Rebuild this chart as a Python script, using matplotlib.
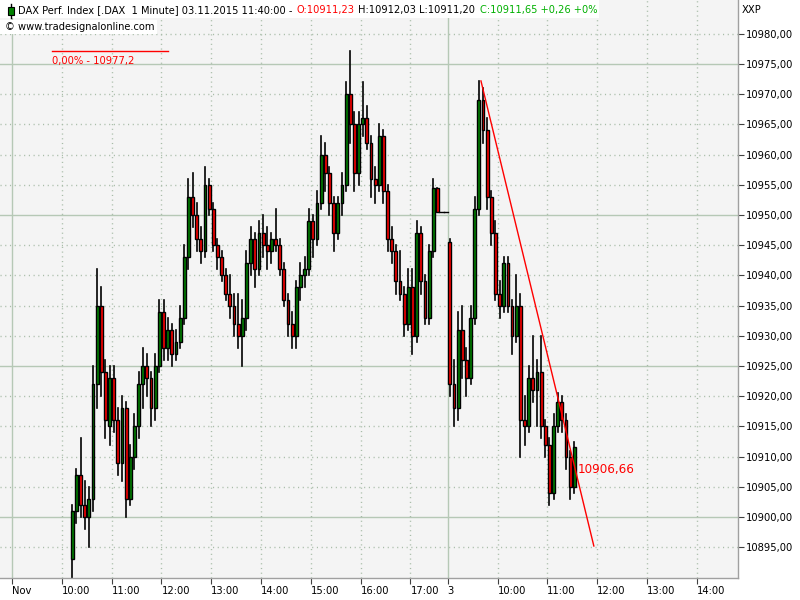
import matplotlib
matplotlib.use("Agg")
import matplotlib.pyplot as plt
from matplotlib.patches import Rectangle
from matplotlib.lines import Line2D

# ---------------- data ----------------
# bar start time in minutes after 02.11.2015 09:00 (5-minute aggregation of the 1-minute chart)
day2_times = list(range(70, 525, 5))
day3_times = list(range(525, 680, 5))

day2_open = [10893, 10901, 10907, 10902, 10900, 10903, 10922, 10935, 10924, 10915,
             10923, 10916, 10909, 10918, 10903, 10910, 10915, 10922, 10925, 10923,
             10918, 10925, 10934, 10928, 10931, 10927, 10929, 10933, 10943, 10953,
             10950, 10946, 10944, 10955, 10951, 10945, 10943, 10940, 10937, 10935,
             10932, 10930, 10933, 10942, 10946, 10941, 10947, 10945, 10944, 10946,
             10945, 10941, 10936, 10932, 10930, 10938, 10940, 10941, 10949, 10946,
             10952, 10960, 10957, 10952, 10947, 10952, 10955, 10970, 10965, 10957,
             10965, 10966, 10962, 10956, 10955, 10963, 10954, 10946, 10944, 10939,
             10937, 10932, 10938, 10930, 10947, 10939, 10933, 10944, 10954.5, 10950.5,
             10950.5]
day2_high = [10902, 10908, 10913, 10906, 10905, 10925, 10941, 10938, 10926, 10925,
             10925, 10918, 10920, 10919, 10912, 10917, 10924, 10928, 10927, 10924,
             10927, 10936, 10936, 10933, 10932, 10931, 10935, 10945, 10956, 10957,
             10952, 10948, 10958, 10956, 10952, 10946, 10944, 10941, 10940, 10937,
             10937, 10936, 10944, 10948, 10947, 10949, 10950, 10948, 10947, 10951,
             10946, 10942, 10937, 10934, 10939, 10942, 10943, 10951, 10950, 10954,
             10963, 10962, 10958, 10953, 10953, 10957, 10972, 10977.2, 10967, 10967,
             10972, 10968, 10963, 10958, 10965, 10964, 10955, 10948, 10945, 10944,
             10938, 10941, 10941, 10949, 10948, 10940, 10945, 10956, 10954.5, 10950.5,
             10950.5]
day2_low = [10889, 10899, 10900, 10898, 10895, 10901, 10918, 10920, 10913, 10912,
            10914, 10907, 10906, 10900, 10902, 10908, 10913, 10918, 10920, 10915,
            10916, 10924, 10926, 10926, 10925, 10926, 10928, 10932, 10941, 10948,
            10944, 10942, 10943, 10950, 10944, 10941, 10939, 10936, 10933, 10930,
            10928, 10925, 10931, 10940, 10938, 10940, 10943, 10941, 10942, 10944,
            10940, 10935, 10930, 10928, 10928, 10936, 10938, 10940, 10943, 10945,
            10951, 10954, 10950, 10944, 10946, 10950, 10954, 10962, 10954, 10955,
            10963, 10961, 10953, 10952, 10954, 10952, 10944, 10942, 10937, 10936,
            10930, 10931, 10927, 10929, 10937, 10932, 10932, 10943, 10950.5, 10950.5,
            10950.5]
day2_close = [10901, 10907, 10902, 10900, 10903, 10922, 10935, 10924, 10916, 10923,
              10916, 10909, 10918, 10903, 10910, 10915, 10922, 10925, 10923, 10918,
              10925, 10934, 10928, 10931, 10927, 10929, 10933, 10943, 10953, 10950,
              10946, 10944, 10955, 10951, 10945, 10943, 10940, 10937, 10935, 10932,
              10930, 10933, 10942, 10946, 10941, 10947, 10945, 10944, 10946, 10945,
              10941, 10936, 10932, 10930, 10938, 10940, 10941, 10949, 10946, 10952,
              10960, 10957, 10952, 10947, 10952, 10955, 10970, 10965, 10957, 10965,
              10966, 10962, 10956, 10955, 10963, 10954, 10946, 10944, 10939, 10937,
              10932, 10938, 10930, 10947, 10939, 10933, 10944, 10954.5, 10950.5, 10950.5,
              10950.5]

day3_open = [10945.5, 10922, 10918, 10931, 10926, 10923, 10933, 10951, 10969, 10964,
             10953, 10947, 10937, 10935, 10942, 10935, 10930, 10935, 10916, 10915,
             10923, 10921, 10924, 10915, 10912, 10904, 10915, 10919, 10916, 10910,
             10905]
day3_high = [10946, 10926, 10934, 10935, 10928, 10935, 10953, 10972.2, 10971, 10966,
             10954, 10949, 10939, 10943, 10943, 10936, 10940, 10937, 10920, 10925,
             10930, 10926, 10930, 10916, 10913, 10917, 10920.5, 10920, 10917, 10911,
             10912.5]
day3_low = [10920, 10915, 10916, 10923, 10920, 10922, 10932, 10950, 10962, 10951,
            10945, 10936, 10933, 10934, 10934, 10927, 10929, 10910, 10912, 10914,
            10919, 10915, 10913, 10910, 10902, 10903, 10914, 10914, 10908, 10903,
            10904]
day3_close = [10922, 10918, 10931, 10926, 10923, 10933, 10951, 10969, 10964, 10953,
              10947, 10937, 10935, 10942, 10935, 10930, 10935, 10916, 10915, 10923,
              10921, 10924, 10915, 10912, 10904, 10915, 10919, 10916, 10910, 10905,
              10911.65]

tick_minutes = [0, 60, 120, 180, 240, 300, 360, 420, 480, 525, 585, 645, 705, 765, 825]
tick_labels = ["Nov", "10:00", "11:00", "12:00", "13:00", "14:00", "15:00", "16:00", "17:00",
               "3", "10:00", "11:00", "12:00", "13:00", "14:00"]
day_starts = [0, 525]
price_ticks = list(range(10895, 10985, 5))

trend_times = [565, 701]
trend_prices = [10972.2, 10895.2]
trend_label = "10906,66"
high_line_times = [48, 188]
high_line_price = 10977.2
high_label = "0,00% - 10977,2"

header_parts = [("DAX Perf. Index [.DAX  1 Minute] 03.11.2015 11:40:00 -", "black"),
                ("O:10911,23", "#ff0000"),
                ("H:10912,03 L:10911,20", "black"),
                ("C:10911,65 +0,26 +0%", "#00b000")]
copyright_text = "\u00a9 www.tradesignalonline.com"

# ---------------- figure ----------------
W, H = 800, 600
fig = plt.figure(figsize=(8, 6), dpi=100)
fig.patch.set_facecolor("white")
ax = fig.add_axes([0, 22 / H, 738 / W, 578 / H])
ax.set_facecolor("#f4f4f4")
ax.set_xlim(-14.5, 874.7)
ax.set_ylim(10889.9, 10985.6)

FONT = "DejaVu Sans"
FS = 7.2
HFS = 7.1

grid_solid = "#b6c8b6"
grid_dot = "#a8bca8"
for p in price_ticks:
    if p % 25 == 0:
        ax.axhline(p, color=grid_solid, lw=1.0, zorder=0.5)
    else:
        ax.axhline(p, color=grid_dot, lw=1.0, dashes=(0.8, 2.6), zorder=0.5)
for t in tick_minutes:
    if t in day_starts:
        ax.axvline(t, color=grid_solid, lw=1.0, zorder=0.5)
    else:
        ax.axvline(t, color=grid_dot, lw=1.0, dashes=(0.8, 2.6), zorder=0.5)

times = day2_times + day3_times
opens = day2_open + day3_open
highs = day2_high + day3_high
lows = day2_low + day3_low
closes = day2_close + day3_close

bw = 3.4
for t, o, h, l, c in zip(times, opens, highs, lows, closes):
    xc = t + 2.5
    ax.add_line(Line2D([xc, xc], [l, h], color="black", lw=1.2, zorder=2))
    if abs(c - o) < 1e-9:
        ax.add_line(Line2D([t, t + 5], [o, o], color="black", lw=1.0, zorder=3))
    else:
        col = "#008000" if c > o else "#ff0000"
        ax.add_patch(Rectangle((xc - bw / 2, min(o, c)), bw, abs(c - o),
                               facecolor=col, edgecolor="black", lw=1.0, zorder=3))

# trend line and labels
ax.plot(trend_times, trend_prices, color="#ff0000", lw=1.0, zorder=4)
ax.text(681, 10907.8, trend_label, color="#ff0000", fontsize=8.6, family=FONT,
        ha="left", va="center", zorder=5)
ax.plot(high_line_times, [high_line_price] * 2, color="#ff0000", lw=1.0, zorder=4)
ax.text(high_line_times[0], high_line_price - 0.8, high_label, color="#ff0000",
        fontsize=FS, family=FONT, ha="left", va="top", zorder=5)

# axes styling
for s in ["top", "left"]:
    ax.spines[s].set_visible(False)
for s in ["right", "bottom"]:
    ax.spines[s].set_color("#a0a0a0")
    ax.spines[s].set_linewidth(1.0)
ax.yaxis.tick_right()
ax.set_yticks(price_ticks)
ax.set_yticklabels([f"{p:.2f}".replace(".", ",") for p in price_ticks],
                   fontsize=FS, family=FONT)
ax.tick_params(axis="y", length=4, width=0.8, color="#404040", pad=2)
ax.set_xticks(tick_minutes)
ax.set_xticklabels(tick_labels, fontsize=FS, family=FONT, ha="left")
ax.tick_params(axis="x", length=4, width=0.8, color="#404040", pad=2)

fig.text(742 / W, 1 - 10 / H, "XXP", fontsize=FS, family=FONT, ha="left", va="center")

# header
fig.canvas.draw()
r = fig.canvas.get_renderer()
x = 18
for s, col in header_parts:
    t = fig.text(x / W, 1 - 10 / H, s, color=col, fontsize=HFS, family=FONT,
                 ha="left", va="center", zorder=6)
    bb = t.get_window_extent(r)
    x = bb.x1 + 4
t2 = fig.text(5 / W, 1 - 27 / H, copyright_text, fontsize=HFS, family=FONT,
              ha="left", va="center", zorder=6)
bb2 = t2.get_window_extent(r)
fig.patches.append(Rectangle((0, 1 - 18 / H), (x - 2) / W, 18 / H, transform=fig.transFigure,
                             facecolor="white", edgecolor="none", zorder=5))
fig.patches.append(Rectangle((0, 1 - 34 / H), (bb2.x1 + 2) / W, 14 / H, transform=fig.transFigure,
                             facecolor="white", edgecolor="none", zorder=5))
# small candle icon
fig.lines.append(Line2D([11 / W, 11 / W], [1 - 4 / H, 1 - 18 / H], transform=fig.transFigure,
                        color="black", lw=1.0, zorder=7))
fig.patches.append(Rectangle((8 / W, 1 - 15 / H), 6 / W, 8 / H, transform=fig.transFigure,
                             facecolor="#008000", edgecolor="black", lw=0.8, zorder=8))

fig.savefig("out.png", dpi=100, facecolor="white")
